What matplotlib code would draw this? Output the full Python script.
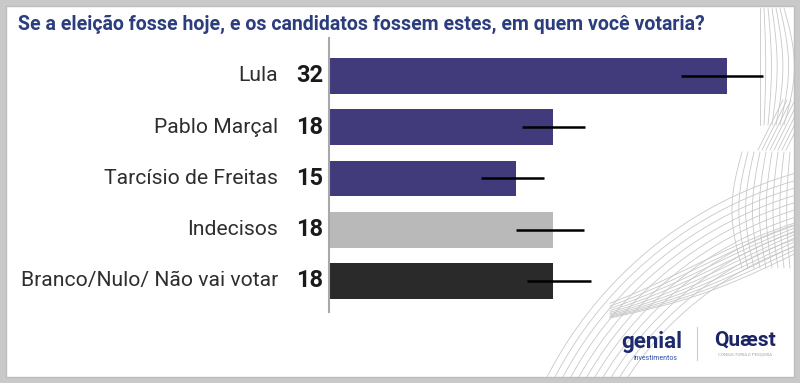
import numpy as np
import matplotlib
matplotlib.use("Agg")
import matplotlib.pyplot as plt
from matplotlib.patches import Rectangle

# ---------------- data ----------------
categories = ["Lula", "Pablo Marçal", "Tarcísio de Freitas", "Indecisos", "Branco/Nulo/ Não vai votar"]
values = [32, 18, 15, 18, 18]
err_low = [28.3, 15.5, 12.2, 15.0, 15.9]
err_high = [34.9, 20.6, 17.3, 20.5, 21.1]
bar_colors = ["#413b7c", "#413b7c", "#413b7c", "#b9b9b9", "#2a2a2a"]
title = "Se a eleição fosse hoje, e os candidatos fossem estes, em quem você votaria?"

W, H = 800, 383
fig = plt.figure(figsize=(W / 100, H / 100), dpi=100)
fig.patch.set_facecolor("#c9c9c9")

# background / decoration axes in pixel coords (y down)
bg = fig.add_axes([0, 0, 1, 1])
bg.set_xlim(0, W)
bg.set_ylim(H, 0)
bg.axis("off")
panel = Rectangle((6, 6), 788, 371, facecolor="white", edgecolor="#bdbdbd", lw=1, zorder=0)
bg.add_patch(panel)

line_kw = dict(color="#c8c8c8", lw=0.6, zorder=1)
# fan of arcs in bottom-right
t = np.linspace(np.pi, 1.5 * np.pi, 400)
for r in np.arange(332, 405, 7):
    x = 905 + r * np.cos(t)
    y = 560 + r * np.sin(t)
    ln, = bg.plot(x, y, **line_kw)
    ln.set_clip_path(panel)
# band from lower-left to right
for k in range(10):
    xs = np.linspace(610, 794, 100)
    ys = 318 - 0.35 * (xs - 610) - k * 2.5 + 8 * np.sin((xs - 610) / 60 + k * 0.2)
    ln, = bg.plot(xs, ys, **line_kw)
    ln.set_clip_path(panel)
# vertical-ish curves middle right
for k in range(9):
    ys = np.linspace(152, 268, 100)
    xs = 742 + k * 6 - 10 * np.sin((ys - 152) / 116 * np.pi) * (1 - k / 12)
    ln, = bg.plot(xs, ys, **line_kw)
    ln.set_clip_path(panel)
# upper-right curves
for k in range(7):
    ys = np.linspace(8, 125, 100)
    xs = 766 + k * 4 + 12 * np.sin((ys - 8) / 117 * np.pi) * (k / 7) - 6
    ln, = bg.plot(xs, ys, **line_kw)
    ln.set_clip_path(panel)
# diagonal wedge near Pablo row
for k in range(8):
    ys = np.linspace(100, 150, 50)
    xs = 758 + k * 4 + (150 - ys) * 0.5
    ln, = bg.plot(xs, ys, **line_kw)
    ln.set_clip_path(panel)

# title
bg.text(18, 24, title, color="#2b3d7c", fontsize=14.05, fontweight="bold",
        family="Roboto", fontstretch="condensed", ha="left", va="center", zorder=3)

# logos as text
bg.text(652, 342, "genial", color="#1d2a6e", fontsize=16, fontweight="bold",
        family="Roboto", ha="center", va="center", zorder=3)
bg.text(656, 358, "investimentos", color="#2d4fa8", fontsize=5, family="Roboto",
        ha="center", va="center", zorder=3)
bg.plot([697, 697], [327, 360], color="#b8d0e8", lw=0.8, zorder=3)
bg.text(745, 340, "Quæst", color="#1c2466", fontsize=15, fontweight="bold",
        family="Roboto", ha="center", va="center", zorder=3)
bg.text(745, 355, "CONSULTORIA E PESQUISA", color="#9aa0b0", fontsize=3.2,
        family="Roboto", ha="center", va="center", zorder=3)

# ---------------- bar axes ----------------
x0_px, x1_px = 329, 794
top_px, bot_px = 38, 312
ax = fig.add_axes([x0_px / W, (H - bot_px) / H, (x1_px - x0_px) / W, (bot_px - top_px) / H])
ax.patch.set_alpha(0)
ypos = np.arange(len(categories))
ax.barh(ypos, values, height=0.70, color=bar_colors, zorder=2)
ax.hlines(ypos, err_low, err_high, color="black", lw=1.8, zorder=3)
ax.set_xlim(0, (x1_px - x0_px) / 12.44)
ax.set_ylim(4.605, -0.741)
for s in ["top", "right", "bottom"]:
    ax.spines[s].set_visible(False)
ax.spines["left"].set_color("#a8a8a8")
ax.spines["left"].set_linewidth(1.5)
ax.set_xticks([])
ax.set_yticks([])

for i, (c, v) in enumerate(zip(categories, values)):
    ax.annotate(c, xy=(0, i), xytext=(-51, 0), textcoords="offset pixels",
                ha="right", va="center", fontsize=15.2, color="#2e2e2e",
                family="Roboto", annotation_clip=False)
    ax.annotate(str(v), xy=(0, i), xytext=(-6, 0), textcoords="offset pixels",
                ha="right", va="center", fontsize=17, fontweight="bold", color="#1a1a1a",
                family="Roboto", annotation_clip=False)

fig.savefig("out.png", dpi=100, facecolor=fig.get_facecolor())
